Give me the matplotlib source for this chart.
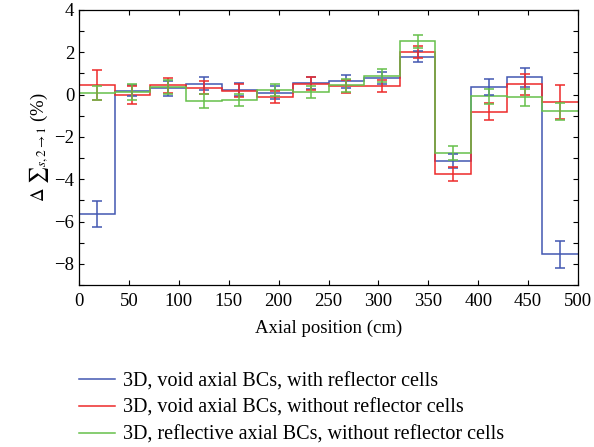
import matplotlib
matplotlib.use("Agg")
import matplotlib.pyplot as plt
from matplotlib.ticker import MultipleLocator
import numpy as np

# axial bins: 14 equal cells over 0-500 cm
edges = np.linspace(0, 500, 15)
centers = 0.5 * (edges[:-1] + edges[1:])

# relative difference of scattering cross section (%) per cell
void_refl = [-5.64, 0.19, 0.30, 0.51, 0.24, 0.09, 0.55, 0.62, 0.77, 1.80, -3.13, 0.36, 0.82, -7.55]
void_refl_err = [0.60, 0.25, 0.35, 0.31, 0.30, 0.30, 0.30, 0.29, 0.29, 0.28, 0.33, 0.38, 0.45, 0.63]

void_norefl = [0.44, -0.02, 0.44, 0.32, 0.19, -0.11, 0.52, 0.39, 0.41, 2.02, -3.74, -0.81, 0.49, -0.33]
void_norefl_err = [0.70, 0.43, 0.35, 0.30, 0.30, 0.27, 0.30, 0.30, 0.28, 0.27, 0.33, 0.41, 0.50, 0.80]

refl_norefl = [0.09, 0.14, 0.36, -0.30, -0.25, 0.22, 0.13, 0.44, 0.90, 2.53, -2.76, -0.08, -0.13, -0.79]
refl_norefl_err = [0.33, 0.38, 0.35, 0.33, 0.30, 0.30, 0.30, 0.30, 0.30, 0.31, 0.35, 0.35, 0.40, 0.40]

labels = [
    "3D, void axial BCs, with reflector cells",
    "3D, void axial BCs, without reflector cells",
    "3D, reflective axial BCs, without reflector cells",
]
colors = ["#4257b2", "#ee2a2a", "#66c04a"]

plt.rcParams["font.family"] = ["Liberation Serif", "DejaVu Serif"]
plt.rcParams["mathtext.fontset"] = "stix"
plt.rcParams["font.size"] = 13.5

fig = plt.figure(figsize=(5.94, 4.47), dpi=100)
ax = fig.add_axes([79 / 594, 1 - 285 / 447, 499 / 594, 275 / 447])

series = [(void_refl, void_refl_err), (void_norefl, void_norefl_err), (refl_norefl, refl_norefl_err)]
for (vals, errs), col, lab in zip(series, colors, labels):
    ax.stairs(vals, edges, baseline=None, color=col, lw=1.1, label=lab)
    ax.errorbar(centers, vals, yerr=errs, fmt="none", ecolor=col, elinewidth=1.1,
                capsize=3.3, capthick=1.1)

ax.set_xlim(0, 500)
ax.set_ylim(-9, 4)
ax.xaxis.set_major_locator(MultipleLocator(50))
ax.yaxis.set_major_locator(MultipleLocator(2))
ax.yaxis.set_minor_locator(MultipleLocator(1))
ax.tick_params(which="both", direction="in", top=True, right=True, length=3.5, width=0.8)
ax.tick_params(axis="x", pad=6)
for s in ax.spines.values():
    s.set_linewidth(0.9)

ax.set_xlabel("Axial position (cm)", labelpad=7)
ax.set_ylabel(r"$\Delta\ {\sum}_{s,2\rightarrow 1}$ (%)", labelpad=2)

fig.legend(loc="upper left", bbox_to_anchor=(79 / 594, 1 - 372 / 447), frameon=False,
           fontsize=14.5, handlelength=1.8, handletextpad=0.4, labelspacing=0.38,
           borderpad=0, borderaxespad=0)

fig.savefig("out.png", dpi=100)
